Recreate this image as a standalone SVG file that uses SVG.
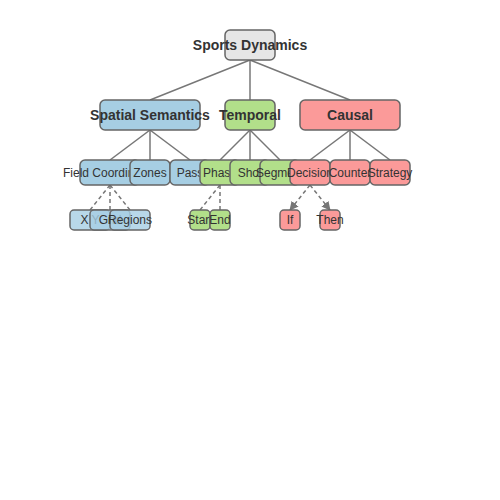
<svg xmlns="http://www.w3.org/2000/svg" width="500" height="500" viewBox="0 0 500 500">
<style>
.box{stroke:#666;stroke-width:1.5}
.root{fill:#e6e6e6}
.sp{fill:#a6cee3}
.tm{fill:#b2df8a}
.ca{fill:#fb9a99}
.l3{fill-opacity:0.8}
.t0{font-family:"Liberation Sans",Arial,sans-serif;font-size:14px;font-weight:bold;fill:#333;text-anchor:middle;dominant-baseline:central}
.t2{font-family:"Liberation Sans",Arial,sans-serif;font-size:12px;fill:#333;text-anchor:middle;dominant-baseline:central}
.e{stroke:#777;stroke-width:1.5;fill:none}
.d{stroke:#777;stroke-width:1.5;fill:none;stroke-dasharray:4,3}
</style>
<defs>
<marker id="arr" viewBox="0 0 10 10" refX="9" refY="5" markerWidth="6" markerHeight="6" orient="auto" markerUnits="strokeWidth">
<path d="M0,0 L10,5 L0,10 z" fill="#777"/>
</marker>
</defs>
<g id="connectors">
<line class="e" x1="250" y1="60" x2="150" y2="100"/>
<line class="e" x1="250" y1="60" x2="250" y2="100"/>
<line class="e" x1="250" y1="60" x2="350" y2="100"/>
<line class="e" x1="150" y1="130" x2="110" y2="160"/>
<line class="e" x1="150" y1="130" x2="150" y2="160"/>
<line class="e" x1="150" y1="130" x2="190" y2="160"/>
<line class="e" x1="250" y1="130" x2="220" y2="160"/>
<line class="e" x1="250" y1="130" x2="250" y2="160"/>
<line class="e" x1="250" y1="130" x2="280" y2="160"/>
<line class="e" x1="350" y1="130" x2="310" y2="160"/>
<line class="e" x1="350" y1="130" x2="350" y2="160"/>
<line class="e" x1="350" y1="130" x2="390" y2="160"/>
<line class="d" x1="110" y1="185" x2="90" y2="210"/>
<line class="d" x1="110" y1="185" x2="110" y2="210"/>
<line class="d" x1="110" y1="185" x2="130" y2="210"/>
<line class="d" x1="220" y1="185" x2="200" y2="210"/>
<line class="d" x1="220" y1="185" x2="220" y2="210"/>
<line class="d" x1="310" y1="185" x2="290" y2="210" marker-end="url(#arr)"/>
<line class="d" x1="310" y1="185" x2="330" y2="210" marker-end="url(#arr)"/>
</g>
<g id="root"><rect class="box root" x="225" y="30" width="50" height="30" rx="5"/><text class="t0" x="250" y="45">Sports Dynamics</text></g>
<g id="spatial"><rect class="box sp" x="100" y="100" width="100" height="30" rx="5"/><text class="t0" x="150" y="115">Spatial Semantics</text></g>
<g id="temporal"><rect class="box tm" x="225" y="100" width="50" height="30" rx="5"/><text class="t0" x="250" y="115">Temporal</text></g>
<g id="causal"><rect class="box ca" x="300" y="100" width="100" height="30" rx="5"/><text class="t0" x="350" y="115">Causal</text></g>
<g id="field"><rect class="box sp" x="80" y="160" width="60" height="25" rx="5"/><text class="t2" x="110" y="173">Field Coordinates</text></g>
<g id="zones"><rect class="box sp" x="130" y="160" width="40" height="25" rx="5"/><text class="t2" x="150" y="173">Zones</text></g>
<g id="pass"><rect class="box sp" x="170" y="160" width="40" height="25" rx="5"/><text class="t2" x="190" y="173">Pass</text></g>
<g id="phase"><rect class="box tm" x="200" y="160" width="40" height="25" rx="5"/><text class="t2" x="220" y="173">Phase</text></g>
<g id="shot"><rect class="box tm" x="230" y="160" width="40" height="25" rx="5"/><text class="t2" x="250" y="173">Shot</text></g>
<g id="segment"><rect class="box tm" x="260" y="160" width="40" height="25" rx="5"/><text class="t2" x="280" y="173">Segment</text></g>
<g id="decision"><rect class="box ca" x="290" y="160" width="40" height="25" rx="5"/><text class="t2" x="310" y="173">Decision</text></g>
<g id="counter"><rect class="box ca" x="330" y="160" width="40" height="25" rx="5"/><text class="t2" x="350" y="173">Counter</text></g>
<g id="strategy"><rect class="box ca" x="370" y="160" width="40" height="25" rx="5"/><text class="t2" x="390" y="173">Strategy</text></g>
<g id="xy"><rect class="box sp l3" x="70" y="210" width="40" height="20" rx="4"/><text class="t2" x="90" y="220">X Y</text></g>
<g id="grid"><rect class="box sp l3" x="90" y="210" width="40" height="20" rx="4"/><text class="t2" x="110" y="220">Grid</text></g>
<g id="regions"><rect class="box sp l3" x="110" y="210" width="40" height="20" rx="4"/><text class="t2" x="130" y="220">Regions</text></g>
<g id="start"><rect class="box tm" x="190" y="210" width="20" height="20" rx="4"/><text class="t2" x="200" y="220">Start</text></g>
<g id="end"><rect class="box tm" x="210" y="210" width="20" height="20" rx="4"/><text class="t2" x="220" y="220">End</text></g>
<g id="if"><rect class="box ca" x="280" y="210" width="20" height="20" rx="4"/><text class="t2" x="290" y="220">If</text></g>
<g id="then"><rect class="box ca" x="320" y="210" width="20" height="20" rx="4"/><text class="t2" x="330" y="220">Then</text></g>
</svg>
